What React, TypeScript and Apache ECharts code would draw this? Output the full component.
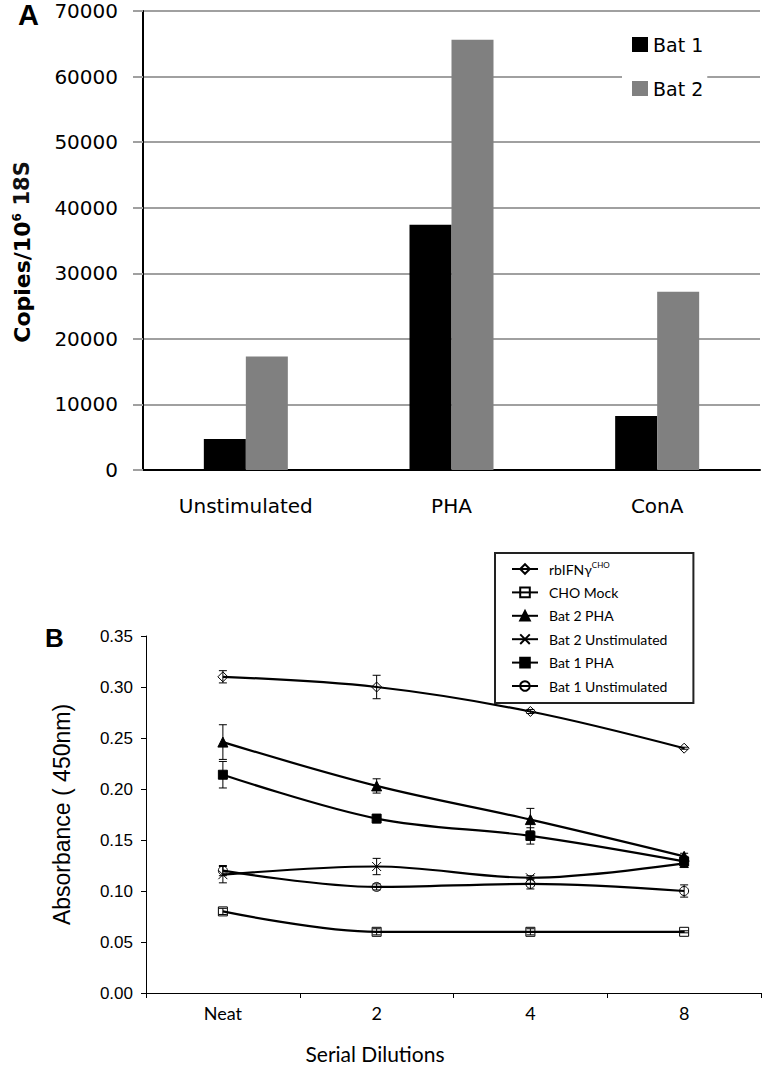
import React, { useEffect, useRef } from "react";
import * as echarts from "echarts";

// ---- Panel A data ----
const categoriesA = ["Unstimulated", "PHA", "ConA"];
const bat1Copies = [4730, 37400, 8240];
const bat2Copies = [17300, 65600, 27200];

// ---- Panel B data ----
const dilutions = ["Neat", "2", "4", "8"];
const rbIFN = [0.31, 0.3, 0.276, 0.24];
const rbIFNErr = [0.006, 0.0115, 0.002, 0.001];
const choMock = [0.08, 0.06, 0.06, 0.06];
const choMockErr = [0.003, 0.003, 0.003, 0.001];
const bat2PHA = [0.246, 0.203, 0.17, 0.134];
const bat2PHAErr = [0.017, 0.007, 0.011, 0.003];
const bat2Unstim = [0.116, 0.124, 0.113, 0.127];
const bat2UnstimErr = [0.008, 0.008, 0.002, 0.004];
const bat1PHA = [0.214, 0.171, 0.154, 0.129];
const bat1PHAErr = [0.013, 0.004, 0.008, 0.005];
const bat1Unstim = [0.12, 0.104, 0.107, 0.1];
const bat1UnstimErr = [0.005, 0.003, 0.005, 0.006];

const CROSS = "path://M0,0L10,10M10,0L0,10";

type LineDef = {
  name: string;
  values: number[];
  errs: number[];
  symbol: string;
  size: number;
  filled: boolean;
};

const lineDefs: LineDef[] = [
  { name: "rbIFNγ", values: rbIFN, errs: rbIFNErr, symbol: "diamond", size: 10, filled: false },
  { name: "CHO Mock", values: choMock, errs: choMockErr, symbol: "rect", size: 9, filled: false },
  { name: "Bat 2 PHA", values: bat2PHA, errs: bat2PHAErr, symbol: "triangle", size: 10, filled: true },
  { name: "Bat 2 Unstimulated", values: bat2Unstim, errs: bat2UnstimErr, symbol: CROSS, size: 9, filled: false },
  { name: "Bat 1 PHA", values: bat1PHA, errs: bat1PHAErr, symbol: "rect", size: 9, filled: true },
  { name: "Bat 1 Unstimulated", values: bat1Unstim, errs: bat1UnstimErr, symbol: "circle", size: 9, filled: false },
];

export default function App() {
  const ref = useRef<HTMLDivElement>(null);

  useEffect(() => {
    if (!ref.current) return;
    const chart = echarts.init(ref.current, null, { renderer: "svg" });

    const lineSeries = lineDefs.map((d) => ({
      type: "line",
      name: d.name,
      xAxisIndex: 1,
      yAxisIndex: 1,
      data: d.values,
      smooth: 0.35,
      symbol: d.symbol,
      symbolSize: d.size,
      showSymbol: true,
      lineStyle: { color: "#000", width: 2.2 },
      itemStyle: {
        color: d.filled ? "#000" : "rgba(255,255,255,0)",
        borderColor: "#000",
        borderWidth: 1,
      },
      z: 3,
    }));

    const errSeries = lineDefs.map((d) => ({
      type: "custom",
      name: d.name + " err",
      xAxisIndex: 1,
      yAxisIndex: 1,
      data: d.values.map((v, i) => [i, v - d.errs[i], v + d.errs[i]]),
      renderItem: (params: any, api: any) => {
        const x = api.value(0);
        const lo = api.coord([x, api.value(1)]);
        const hi = api.coord([x, api.value(2)]);
        const w = 4;
        const st = { stroke: "#000", lineWidth: 1 };
        return {
          type: "group",
          children: [
            { type: "line", shape: { x1: lo[0], y1: lo[1], x2: hi[0], y2: hi[1] }, style: st },
            { type: "line", shape: { x1: lo[0] - w, y1: lo[1], x2: lo[0] + w, y2: lo[1] }, style: st },
            { type: "line", shape: { x1: hi[0] - w, y1: hi[1], x2: hi[0] + w, y2: hi[1] }, style: st },
          ],
        };
      },
      z: 4,
    }));

    const option: any = {
      animation: false,
      backgroundColor: "#fff",
      grid: [
        { left: 143, top: 11, width: 617, height: 459 },
        { left: 146, top: 636, width: 615, height: 357 },
      ],
      legend: [
        {
          data: ["Bat 1", "Bat 2"],
          orient: "vertical",
          left: 622,
          top: 25,
          padding: [10, 4, 10, 10],
          itemWidth: 16,
          itemHeight: 15,
          itemGap: 25,
          icon: "rect",
          backgroundColor: "#fff",
          textStyle: { fontFamily: "DejaVu Sans", fontSize: 19, color: "#000" },
        },
        {
          data: lineDefs.map((d) => d.name),
          orient: "vertical",
          left: 495,
          top: 553,
          padding: [8, 26, 10, 16],
          itemWidth: 26,
          itemHeight: 12,
          itemGap: 9.4,
          borderColor: "#222",
          borderWidth: 2,
          backgroundColor: "#fff",
          formatter: (name: string) => (name === "rbIFNγ" ? "{n|rbIFNγ}{sup|CHO}" : name),
          textStyle: {
            fontFamily: "Lato",
            fontSize: 14,
            color: "#000",
            padding: [0, 0, 0, 6],
            rich: {
              n: { fontFamily: "Lato", fontSize: 14, color: "#000" },
              sup: { fontFamily: "Lato", fontSize: 8, color: "#000", padding: [0, 0, 8, 0] },
            },
          },
        },
      ],
      xAxis: [
        {
          type: "category",
          gridIndex: 0,
          data: categoriesA,
          axisLine: { show: true, lineStyle: { color: "#000", width: 2 } },
          axisTick: { show: false },
          axisLabel: { margin: 26, fontFamily: "DejaVu Sans", fontSize: 20, color: "#000" },
        },
        {
          type: "category",
          gridIndex: 1,
          data: dilutions,
          boundaryGap: true,
          axisLine: { show: true, lineStyle: { color: "#000", width: 1 } },
          axisTick: { show: true, length: 5, lineStyle: { color: "#000" } },
          axisLabel: { margin: 11, fontFamily: "Lato", fontSize: 18, color: "#000" },
        },
      ],
      yAxis: [
        {
          type: "value",
          gridIndex: 0,
          min: 0,
          max: 70000,
          interval: 10000,
          name: "Copies/10{sup|6} {r|18S}   ",
          nameLocation: "middle",
          nameRotate: 90,
          nameGap: 110,
          nameTextStyle: {
            fontFamily: "DejaVu Sans",
            fontSize: 22,
            fontWeight: "bold",
            color: "#000",
            rich: {
              sup: { fontFamily: "DejaVu Sans", fontSize: 12, fontWeight: "bold", color: "#000", padding: [0, 0, 10, 0] },
              r: { fontFamily: "DejaVu Sans", fontSize: 21, color: "#111" },
            },
          },
          axisLine: { show: true, lineStyle: { color: "#000", width: 2 } },
          axisTick: { show: true, length: 10, lineStyle: { color: "#a0a0a0", width: 2 } },
          splitLine: { show: true, lineStyle: { color: "#a0a0a0", width: 2 } },
          axisLabel: {
            margin: 25,
            fontFamily: "DejaVu Sans",
            fontSize: 20,
            color: "#000",
            formatter: (v: number) => String(v),
          },
        },
        {
          type: "value",
          gridIndex: 1,
          min: 0,
          max: 0.35,
          interval: 0.05,
          name: "Absorbance ( 450nm)",
          nameLocation: "middle",
          nameRotate: 90,
          nameGap: 73,
          nameTextStyle: { fontFamily: "Liberation Sans", fontSize: 23, color: "#000" },
          axisLine: { show: true, lineStyle: { color: "#000", width: 1 } },
          axisTick: { show: true, length: 5, lineStyle: { color: "#000" } },
          splitLine: { show: false },
          axisLabel: {
            margin: 13,
            fontFamily: "Liberation Sans",
            fontSize: 17,
            color: "#000",
            formatter: (v: number) => v.toFixed(2),
          },
        },
      ],
      series: [
        {
          type: "bar",
          name: "Bat 1",
          xAxisIndex: 0,
          yAxisIndex: 0,
          data: bat1Copies,
          barWidth: 42,
          barGap: "0%",
          itemStyle: { color: "#000" },
        },
        {
          type: "bar",
          name: "Bat 2",
          xAxisIndex: 0,
          yAxisIndex: 0,
          data: bat2Copies,
          barWidth: 42,
          barGap: "0%",
          itemStyle: { color: "#808080" },
        },
        ...lineSeries,
        ...errSeries,
      ],
      graphic: [
        {
          type: "text",
          left: 18,
          top: 0,
          style: { text: "A", fontFamily: "Liberation Sans", fontWeight: "bold", fontSize: 29, fill: "#000" },
        },
        {
          type: "text",
          left: 45,
          top: 625,
          style: { text: "B", fontFamily: "Liberation Sans", fontWeight: "bold", fontSize: 26, fill: "#000" },
        },
        {
          type: "text",
          x: 375,
          y: 1053,
          style: {
            text: "Serial Dilutions",
            fontFamily: "Lato",
            fontSize: 21,
            fill: "#000",
            align: "center",
            verticalAlign: "middle",
          },
        },
      ],
    };

    chart.setOption(option);
    return () => chart.dispose();
  }, []);

  return (
    <div
      ref={ref}
      style={{ position: "absolute", left: 0, top: 0, width: 765, height: 1066 }}
    />
  );
}
